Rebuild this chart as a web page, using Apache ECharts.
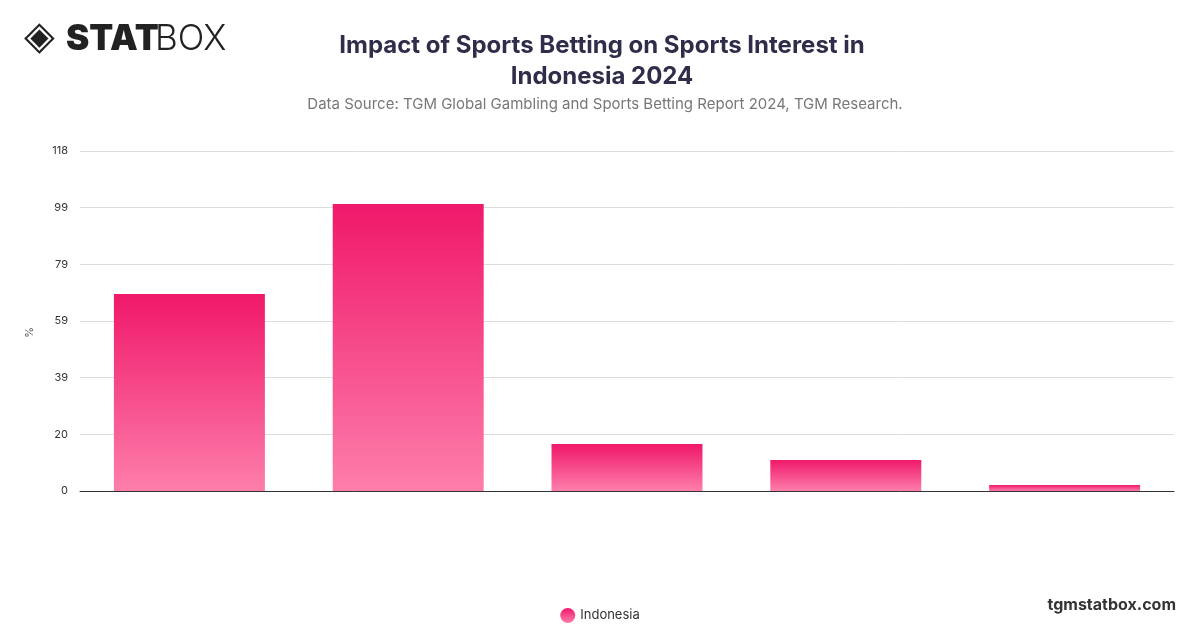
<!DOCTYPE html>
<html><head><meta charset="utf-8">
<script src="https://cdn.jsdelivr.net/npm/echarts@6/dist/echarts.min.js"></script>
<style>html,body{margin:0;padding:0;background:#fff}#c{width:1200px;height:628px}</style>
</head><body><div id="c"></div>
<script>
const categories = ['Increased interest', 'Much more interest', 'No change', 'Less interest', 'Much less interest'];
const seriesName = 'Indonesia';
const values = [68.4, 99.6, 16.3, 10.8, 2.1];
const tickLabels = ['0', '20', '39', '59', '79', '99', '118'];
const chart = echarts.init(document.getElementById('c'));
chart.setOption({
  backgroundColor: '#fff',
  title: [{
    text: 'Impact of Sports Betting on Sports Interest in\nIndonesia 2024',
    left: 597, top: 25, textAlign: 'center',
    textStyle: {fontFamily: 'Inter', fontSize: 24, fontWeight: 'bold', color: '#2f2d4a', lineHeight: 31, letterSpacing: -0.5}
  }, {
    text: 'Data Source: TGM Global Gambling and Sports Betting Report 2024, TGM Research.',
    left: 600, top: 92, textAlign: 'center',
    textStyle: {fontFamily: 'Inter', fontSize: 15, fontWeight: 'normal', color: '#777'}
  }],
  graphic: [
    {type: 'text', left: 24, top: 19, style: {text: '◈', font: 'bold 40px DejaVu Sans', fill: '#222'}},
    {type: 'text', left: 66, top: 22, style: {text: 'STAT', font: '900 35px Inter', fill: '#222'}},
    {type: 'text', left: 155, top: 22, style: {text: 'BOX', font: '300 35px Inter', fill: '#222'}},
    {type: 'text', right: 24, top: 597, style: {text: 'tgmstatbox.com', font: 'bold 16px Inter', fill: '#333'}},
    {type: 'text', left: 24, top: 327, rotation: Math.PI/2, style: {text: '%', font: '11px Inter', fill: '#555'}}
  ],
  legend: {
    top: 603, left: 'center', icon: 'circle', itemWidth: 15, itemHeight: 15,
    textStyle: {fontFamily: 'Inter', fontSize: 13, color: '#333'}
  },
  grid: {left: 80, right: 26, top: 151, bottom: 137},
  xAxis: {
    type: 'category', data: categories,
    axisLine: {lineStyle: {color: '#333'}}, axisTick: {show: false}, axisLabel: {show: false}
  },
  yAxis: {
    type: 'value', min: 0, max: 118, interval: 118/6,
    axisLabel: {formatter: v => tickLabels[Math.round(v / (118/6))], fontFamily: 'Inter', fontSize: 11, color: '#333', margin: 12},
    splitLine: {lineStyle: {color: '#ddd'}}
  },
  series: [{
    name: seriesName, type: 'bar', data: values, barWidth: '69%',
    itemStyle: {color: new echarts.graphic.LinearGradient(0, 0, 0, 1, [
      {offset: 0, color: '#f0186a'}, {offset: 1, color: '#fd7eab'}])}
  }]
});
</script></body></html>
